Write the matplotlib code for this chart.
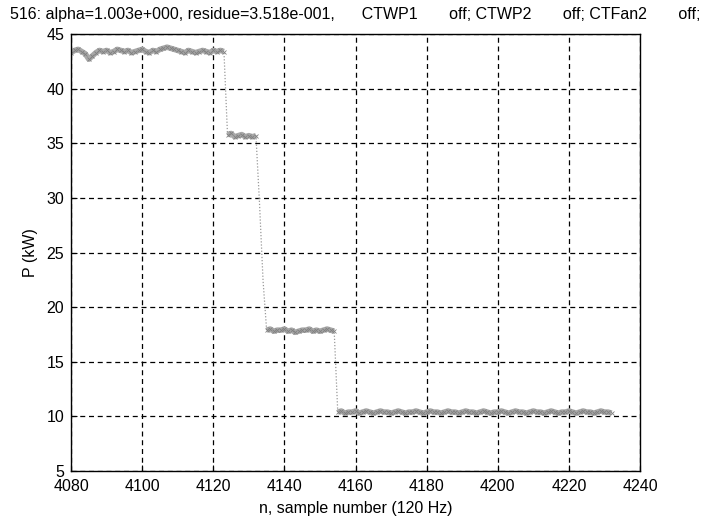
import numpy as np
import matplotlib
matplotlib.use('Agg')
import matplotlib.pyplot as plt

plt.rcParams['font.family'] = ['Liberation Sans', 'DejaVu Sans']

# Sample index (120 Hz) and measured power for each step of the load
n_start = 4080
seg1 = [43.3, 43.5, 43.6, 43.4, 43.2, 42.7, 43.0, 43.3, 43.5, 43.4,
        43.5, 43.3, 43.4, 43.6, 43.5, 43.4, 43.5, 43.3, 43.4, 43.5,
        43.6, 43.4, 43.3, 43.5, 43.4, 43.6, 43.7, 43.8, 43.7, 43.6,
        43.5, 43.4, 43.3, 43.5, 43.4, 43.3, 43.4, 43.5, 43.4, 43.3,
        43.5, 43.4, 43.5, 43.4]
seg2 = [35.8, 35.9, 35.6, 35.7, 35.8, 35.6, 35.7, 35.6, 35.7]
drop2 = [29.5, 22.4]
seg3 = [17.9, 18.0, 17.8, 17.9, 17.9, 18.0, 17.8, 17.9, 17.7, 17.8,
        17.9, 17.9, 18.0, 17.8, 17.9, 17.8, 17.9, 18.0, 17.9, 17.8]
seg4 = [10.4, 10.5, 10.3, 10.4, 10.4, 10.5, 10.3, 10.4, 10.5, 10.4,
        10.3, 10.4, 10.5, 10.4, 10.4, 10.3, 10.4, 10.5, 10.4, 10.3,
        10.4, 10.4, 10.5, 10.4, 10.3, 10.4, 10.5, 10.4, 10.4, 10.3,
        10.4, 10.5, 10.4, 10.4, 10.3, 10.4, 10.5, 10.4, 10.4, 10.3,
        10.4, 10.5, 10.4, 10.3, 10.4, 10.4, 10.5, 10.4, 10.3, 10.4,
        10.5, 10.4, 10.4, 10.3, 10.4, 10.5, 10.4, 10.4, 10.3, 10.4,
        10.5, 10.4, 10.3, 10.4, 10.4, 10.5, 10.4, 10.3, 10.4, 10.5,
        10.4, 10.4, 10.3, 10.4, 10.5, 10.4, 10.4, 10.3]

title = ('516: alpha=1.003e+000, residue=3.518e-001,      CTWP1       '
         'off; CTWP2       off; CTFan2       off;')

power = np.array(seg1 + seg2 + drop2 + seg3 + seg4)
n = np.arange(n_start, n_start + len(power))

fig = plt.figure(figsize=(7.06, 5.24), dpi=100)
ax = fig.add_axes([0.1006, 0.101, 0.806, 0.834])

# thin dotted trace through every sample, including the transitions
ax.plot(n, power, color='0.6', lw=0.9, ls=(0, (1, 1.5)))

# thick speckled band over each steady-state step
start = n_start
for seg, gap in [(seg1, 0), (seg2, len(drop2)), (seg3, 0), (seg4, 0)]:
    x = np.arange(start, start + len(seg))
    ax.plot(x, seg, color='0.66', lw=4, solid_capstyle='butt')
    ax.plot(x, seg, ls='none', marker='x', ms=3.5, mew=0.6, color='0.5')
    start += len(seg) + gap

ax.set_xlim(4080, 4240)
ax.set_ylim(5, 45)
ax.set_xticks(np.arange(4080, 4241, 20))
ax.set_yticks(np.arange(5, 46, 5))
ax.grid(True, color='black', ls=(0, (4, 3)), lw=0.9)
ax.tick_params(direction='in', length=4, labelsize=11.5, color='black')
ax.tick_params(axis='x', pad=6)
ax.tick_params(axis='y', pad=5)
for s in ax.spines.values():
    s.set_linewidth(1.0)

ax.set_xlabel('n, sample number (120 Hz)', fontsize=11.5, labelpad=5)
ax.set_ylabel('P (kW)', fontsize=11.5, labelpad=6)
ax.set_title(title, fontsize=11.5, pad=11)

fig.savefig('out.png', dpi=100)
